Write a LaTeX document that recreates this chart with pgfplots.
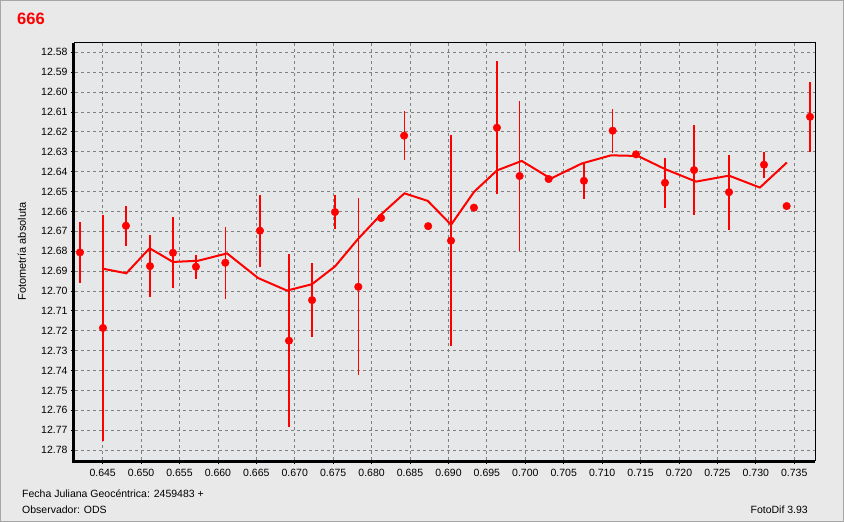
\documentclass[border=0pt]{standalone}
\usepackage{fontspec}
\setmainfont{Liberation Sans}
\usepackage{pgfplots}
\usepackage{pgfplotstable}
\pgfplotsset{compat=1.18}
\definecolor{bg}{RGB}{233,233,234}
\definecolor{plotbg}{RGB}{230,231,233}
\definecolor{gridc}{RGB}{128,128,128}
\definecolor{dotred}{RGB}{255,0,0}

\pgfplotstableread{
x y e
0.64205 12.6806 0.0155
0.64504 12.7186 0.0567
0.64803 12.6672 0.0100
0.65116 12.6875 0.0157
0.65415 12.6808 0.0178
0.65714 12.6878 0.0060
0.66096 12.6858 0.0180
0.66547 12.6697 0.0180
0.66925 12.7250 0.0435
0.67225 12.7046 0.0185
0.67523 12.6603 0.0087
0.67827 12.6979 0.0446
0.68123 12.6633 0.0010
0.68423 12.6219 0.0124
0.68736 12.6674 0.0000
0.69033 12.6747 0.0530
0.69332 12.6581 0.0000
0.69631 12.6179 0.0335
0.69926 12.6422 0.0376
0.70304 12.6437 0.0010
0.70763 12.6446 0.0093
0.71137 12.6194 0.0110
0.71441 12.6313 0.0010
0.71818 12.6456 0.0125
0.72196 12.6392 0.0228
0.72651 12.6503 0.0189
0.73106 12.6365 0.0066
0.73401 12.6573 0.0000
0.73705 12.6124 0.0175
}\obs

\pgfplotstableread{
x y
0.64504 12.6888
0.64808 12.6911
0.65111 12.6785
0.65415 12.6854
0.65742 12.6848
0.66119 12.6811
0.66523 12.6935
0.66899 12.6998
0.67224 12.6966
0.67525 12.6876
0.67824 12.6738
0.68124 12.6615
0.68427 12.6509
0.68731 12.6547
0.69034 12.6667
0.69332 12.6502
0.69630 12.6394
0.69954 12.6346
0.70331 12.6435
0.70735 12.6359
0.71114 12.6318
0.71465 12.6321
0.71818 12.6387
0.72222 12.6450
0.72651 12.6420
0.73053 12.6480
0.73404 12.6354
}\avg

\begin{document}
\begin{tikzpicture}[x=1pt,y=1pt]
\fill[bg] (0,0) rectangle (844,522);
\draw[gray!70, line width=1.2pt] (0.6,0.6) rectangle (843.4,521.4);
\node[anchor=west, text=dotred, font=\bfseries\fontsize{16.5}{18}\selectfont, inner sep=0pt] at (17,503) {666};
\node[rotate=90, font=\fontsize{11}{13}\selectfont, inner sep=0pt] at (22,270.5) {Fotometría absoluta};
\node[anchor=west, font=\fontsize{10.5}{12}\selectfont, inner sep=0pt] at (22,28) {Fecha Juliana Geocéntrica: 2459483 +};
\node[anchor=west, font=\fontsize{10.5}{12}\selectfont, inner sep=0pt] at (22,12) {Observador: ODS};
\node[anchor=east, font=\fontsize{10.5}{12}\selectfont, inner sep=0pt] at (808,12) {FotoDif 3.93};
\begin{axis}[
  at={(75pt,62pt)}, anchor=south west,
  scale only axis, width=740pt, height=417pt,
  y dir=reverse,
  xmin=0.6414, xmax=0.7377,
  ymin=12.5753, ymax=12.785,
  axis background/.style={fill=plotbg},
  axis line style={black, line width=1pt},
  xtick={0.645,0.650,0.655,0.660,0.665,0.670,0.675,0.680,0.685,0.690,0.695,0.700,0.705,0.710,0.715,0.720,0.725,0.730,0.735},
  ytick={12.58,12.59,12.60,12.61,12.62,12.63,12.64,12.65,12.66,12.67,12.68,12.69,12.70,12.71,12.72,12.73,12.74,12.75,12.76,12.77,12.78},
  minor x tick num=4,
  tick pos=left,
  tick align=outside,
  major tick length=4pt,
  minor tick length=3pt,
  tick style={black, line width=0.8pt},
  grid=major,
  major grid style={gridc, line width=0.8pt, dash pattern=on 3pt off 3pt},
  /pgf/number format/assume math mode=true,
  xticklabel style={/pgf/number format/.cd, fixed, fixed zerofill, precision=3, /tikz/.cd, yshift=-2pt},
  yticklabel style={/pgf/number format/.cd, fixed, fixed zerofill, precision=2},
  scaled x ticks=false, scaled y ticks=false,
  tick label style={font=\fontsize{10.5}{12}\selectfont, black},
  clip=true,
]
\addplot[dotred, line width=2pt, mark=none] table[x=x,y=y] {\avg};
\addplot[dotred, only marks, mark=*, mark size=3.8pt,
  mark options={fill=dotred, draw=dotred},
  error bars/.cd, y dir=both, y explicit,
  error bar style={dotred, line width=1.2pt}, error mark=none]
  table[x=x, y=y, y error=e] {\obs};
\end{axis}
\draw[black, line width=3pt] ([xshift=-1.5pt]current axis.north west) -- ([xshift=-1.5pt,yshift=-1.5pt]current axis.south west) -- ([yshift=-1.5pt]current axis.south east);
\end{tikzpicture}
\end{document}
